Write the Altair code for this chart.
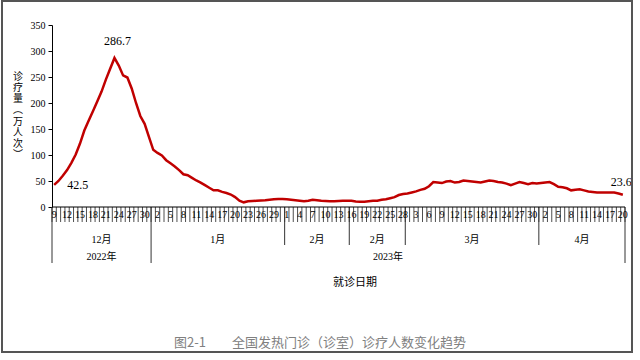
import altair as alt
import pandas as pd

# ---- data ----
visits = [
    42.5, 50, 60, 71, 85, 101, 122, 147, 166, 184, 203, 222, 245, 266, 286.7,  # Dec 9-23
    272, 253, 249, 228, 200, 175, 160, 135,                                    # Dec 24-31
    110, 104, 99, 90, 84, 78, 71, 63, 61, 56, 51, 47, 42, 37, 32, 32,          # Jan 1-16
    29, 27, 24, 19, 12, 9, 11.1, 11.5, 12, 12.5, 13, 14, 15, 15.5, 15.5,      # Jan 17-31
    15, 14, 13, 12, 11, 12, 14, 13, 12, 11.5, 11, 11, 11.5, 12, 12,            # Feb 1-15
    12, 10.5, 10, 10, 11, 12, 12, 14, 15, 17, 19, 23, 25,                      # Feb 16-28
    26, 28, 30, 33, 35, 40, 48, 47, 46, 49, 50, 47, 48, 51, 50, 49,            # Mar 1-16
    48, 47, 49, 51, 50, 48, 47, 45, 42, 45, 48, 46, 44, 46, 45,                # Mar 17-31
    46, 47, 48, 44, 39, 38, 36, 32, 33, 34, 32, 30, 29, 28, 28, 28, 28, 28, 26, 23.6,  # Apr 1-20
]
dates = pd.date_range("2022-12-09", "2023-04-20", freq="D")
day_numbers = [d.day for d in dates]

month_labels = ["12月", "1月", "2月", "2月", "3月", "4月"]
month_sizes = [23, 31, 15, 13, 31, 20]
year_labels = ["2022年", "2023年"]
year_sizes = [23, 110]

value_label_idx = [0, 14, 132]
value_label_txt = ["42.5", "286.7", "23.6"]

y_title_chars = ["诊", "疗", "量", "︵", "万", "人", "次", "︶"]
x_title = "就诊日期"
fig_title = "图2-1　　全国发热门诊（诊室）诊疗人数变化趋势"

# ---- tables ----
n = len(visits)
df = pd.DataFrame({"i": list(range(n)), "v": visits, "d": day_numbers})
day_lab = df[df["i"] % 3 == 0]
minor = pd.DataFrame({"b": [k - 0.5 for k in range(n + 1)]})

m_start, acc = [], 0
for s in month_sizes:
    m_start.append(acc)
    acc += s
months = pd.DataFrame({"lab": month_labels,
                       "c": [st + s / 2 - 0.5 for st, s in zip(m_start, month_sizes)]})
y_start, acc = [], 0
for s in year_sizes:
    y_start.append(acc)
    acc += s
years = pd.DataFrame({"lab": year_labels,
                      "c": [st + s / 2 - 0.5 for st, s in zip(y_start, year_sizes)]})
year_bounds = sorted(set([st - 0.5 for st in y_start] + [n - 0.5]))
month_bounds = [st - 0.5 for st in m_start if (st - 0.5) not in year_bounds]
long_sep = pd.DataFrame({"b": year_bounds})
short_sep = pd.DataFrame({"b": month_bounds})

vl = df.loc[value_label_idx].copy()
vl["t"] = value_label_txt

ychars = pd.DataFrame({"ch": y_title_chars, "k": list(range(len(y_title_chars)))})

one = pd.DataFrame({"a": [0]})

# ---- layout ----
W, H = 573, 182
SERIF = "Liberation Serif, Noto Sans CJK SC"
CJK = "Noto Sans CJK SC"

xs = alt.Scale(domain=[-0.5, n - 0.5], nice=False, zero=False)
ys = alt.Scale(domain=[0, 350], nice=False)
yaxis = alt.Axis(values=list(range(0, 351, 50)), title=None, grid=False, tickSize=4,
                 domainColor="black", tickColor="black", labelColor="black",
                 labelFont="Liberation Serif", labelFontSize=10, labelPadding=3)


def X(f):
    return alt.X(f, type="quantitative", scale=xs, axis=None)


def Y(f):
    return alt.Y(f, type="quantitative", scale=ys, axis=yaxis)


line = alt.Chart(df).mark_line(color="#C00000", strokeWidth=2.5).encode(x=X("i"), y=Y("v"))

xdomain = alt.Chart(one).mark_rule(color="black", strokeWidth=1).encode(
    x=alt.value(0), x2=alt.value(W), y=alt.value(H))

minor_ticks = alt.Chart(minor).mark_rule(color="#222", strokeWidth=0.8).encode(
    x=X("b"), y=alt.value(H), y2=alt.value(H + 15))

day_text = alt.Chart(day_lab).mark_text(font="Liberation Serif", fontSize=10,
                                        baseline="middle", color="black").encode(
    x=X("i"), y=alt.value(H + 8), text="d:N")

long_rules = alt.Chart(long_sep).mark_rule(color="#333", strokeWidth=1).encode(
    x=X("b"), y=alt.value(H), y2=alt.value(H + 56))
short_rules = alt.Chart(short_sep).mark_rule(color="#333", strokeWidth=1).encode(
    x=X("b"), y=alt.value(H), y2=alt.value(H + 38))

month_text = alt.Chart(months).mark_text(font=SERIF, fontSize=10, baseline="middle",
                                         color="black").encode(
    x=X("c"), y=alt.value(H + 33), text="lab:N")
year_text = alt.Chart(years).mark_text(font=SERIF, fontSize=10, baseline="middle",
                                       color="black").encode(
    x=X("c"), y=alt.value(H + 50), text="lab:N")

lab0 = alt.Chart(vl.iloc[[0]]).mark_text(font="Liberation Serif", fontSize=12, align="left",
                                          baseline="middle", dx=13, dy=0, color="black").encode(
    x=X("i"), y=Y("v"), text="t:N")
lab1 = alt.Chart(vl.iloc[[1]]).mark_text(font="Liberation Serif", fontSize=12, align="center",
                                          baseline="middle", dx=3, dy=-17, color="black").encode(
    x=X("i"), y=Y("v"), text="t:N")
lab2 = alt.Chart(vl.iloc[[2]]).mark_text(font="Liberation Serif", fontSize=12, align="left",
                                          baseline="middle", dx=-12, dy=-13, color="black").encode(
    x=X("i"), y=Y("v"), text="t:N")

# stacked vertical y-title: one text per character, placed on its own pixel row scale
ytitle = alt.Chart(ychars).mark_text(font=CJK, fontSize=10, baseline="middle",
                                     align="center", color="black").encode(
    x=alt.value(-34),
    y=alt.Y("k:Q", scale=alt.Scale(domain=[0, 7], range=[52, 130]), axis=None),
    text="ch:N")

xtitle = alt.Chart(one).mark_text(text=x_title, font=CJK, fontSize=11, baseline="middle",
                                  align="center", color="black").encode(
    x=alt.value(303), y=alt.value(258))

ftitle = alt.Chart(one).mark_text(text=fig_title, font=CJK, fontSize=13, baseline="middle",
                                  align="center", color="#808080").encode(
    x=alt.value(268), y=alt.value(318))

frame = alt.Chart(one).mark_rect(fillOpacity=0, stroke="#555555", strokeWidth=2).encode(
    x=alt.value(-50), x2=alt.value(580), y=alt.value(-24), y2=alt.value(327))

main = alt.layer(
    minor_ticks, long_rules, short_rules, xdomain, day_text, month_text, year_text,
    line, lab0, lab1, lab2, xtitle, ftitle, frame
)

chart = alt.layer(main, ytitle).resolve_scale(y="independent").properties(
    width=W, height=H,
    autosize=alt.AutoSizeParams(type="none"),
    padding={"left": 52, "top": 25, "right": 15, "bottom": 153},
    background="white",
).configure_view(stroke=None)

chart.save("out.html", embed_options={"renderer": "svg", "actions": False})
